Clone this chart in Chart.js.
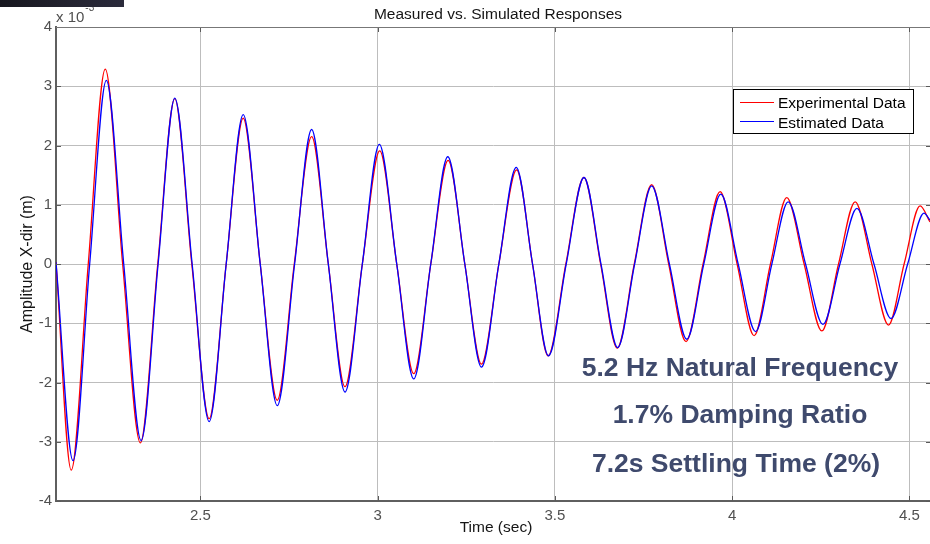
<!DOCTYPE html>
<html><head><meta charset="utf-8">
<script src="https://cdn.jsdelivr.net/npm/chart.js@4"></script>
<style>
html,body{margin:0;padding:0;background:#fff;overflow:hidden}
#wrap{position:relative;width:930px;height:544px}
#bar{position:absolute;left:0;top:0;width:124px;height:7px;background:linear-gradient(90deg,#17171f,#2b2b3c)}
</style></head>
<body><div id="wrap"><canvas id="c" width="930" height="544"></canvas><div id="bar"></div></div>
<script>
const chartTitle = 'Measured vs. Simulated Responses';
const xTitle = 'Time (sec)';
const yTitle = 'Amplitude X-dir (m)';
const yExponent = ['x 10', '-3'];
const seriesNames = ['Experimental Data', 'Estimated Data'];
const xTicks = [2.5, 3, 3.5, 4, 4.5];
const yTicks = [-4, -3, -2, -1, 0, 1, 2, 3, 4];
const notes = ['5.2 Hz Natural Frequency', '1.7% Damping Ratio', '7.2s Settling Time (2%)'];

// Experimental data (red): time (s) and amplitude (x 1e-3 m)
const tExp = [2.093, 2.136, 2.184, 2.232, 2.281, 2.331, 2.380, 2.428, 2.476, 2.525, 2.573, 2.621, 2.669, 2.717, 2.765, 2.814, 2.861, 2.908, 2.957, 3.006, 3.054, 3.102, 3.150, 3.199, 3.246, 3.293, 3.342, 3.392, 3.437, 3.481, 3.531, 3.582, 3.629, 3.676, 3.724, 3.773, 3.821, 3.870, 3.918, 3.966, 4.014, 4.062, 4.108, 4.154, 4.203, 4.253, 4.300, 4.347, 4.394, 4.441, 4.485, 4.530, 4.558];
const vExp = [0.03, -3.48, 0, 3.29, 0, -3.02, 0, 2.79, 0, -2.61, 0, 2.46, 0, -2.30, 0, 2.15, 0, -2.07, 0, 1.91, 0, -1.85, 0, 1.75, 0, -1.69, 0, 1.59, 0, -1.55, 0, 1.46, 0, -1.42, 0, 1.34, 0, -1.31, 0, 1.22, 0, -1.21, 0, 1.12, 0, -1.13, 0, 1.05, 0, -1.03, 0, 0.98, 0.71];

// Estimated data (blue)
const tEst = [2.093, 2.141, 2.188, 2.235, 2.284, 2.333, 2.381, 2.428, 2.477, 2.525, 2.573, 2.621, 2.669, 2.717, 2.766, 2.814, 2.861, 2.908, 2.957, 3.005, 3.054, 3.102, 3.150, 3.198, 3.246, 3.293, 3.342, 3.391, 3.437, 3.482, 3.532, 3.582, 3.630, 3.677, 3.725, 3.773, 3.823, 3.872, 3.920, 3.968, 4.017, 4.066, 4.112, 4.158, 4.207, 4.256, 4.304, 4.352, 4.400, 4.448, 4.495, 4.541, 4.558];
const vEst = [0.03, -3.32, 0, 3.10, 0, -2.98, 0, 2.80, 0, -2.66, 0, 2.52, 0, -2.39, 0, 2.27, 0, -2.16, 0, 2.02, 0, -1.94, 0, 1.81, 0, -1.74, 0, 1.63, 0, -1.55, 0, 1.46, 0, -1.41, 0, 1.32, 0, -1.27, 0, 1.18, 0, -1.14, 0, 1.05, 0, -1.02, 0, 0.94, 0, -0.92, 0, 0.86, 0.74];

const FONT = "'Liberation Sans', Arial, Helvetica, sans-serif";
const tickColor = '#505050';

const deco = {
  id: 'deco',
  afterDraw(chart) {
    const ctx = chart.ctx, a = chart.chartArea;
    const xs = chart.scales.x, ys = chart.scales.y;
    ctx.save();
    // inward tick marks
    ctx.strokeStyle = '#5a5a5a'; ctx.lineWidth = 1;
    ctx.beginPath();
    xTicks.forEach(v => {
      const px = Math.round(xs.getPixelForValue(v)) + 0.5;
      ctx.moveTo(px, a.bottom); ctx.lineTo(px, a.bottom - 5);
      ctx.moveTo(px, a.top); ctx.lineTo(px, a.top + 5);
    });
    yTicks.forEach(v => {
      const py = Math.round(ys.getPixelForValue(v)) + 0.5;
      ctx.moveTo(a.left, py); ctx.lineTo(a.left + 5, py);
      ctx.moveTo(a.right, py); ctx.lineTo(a.right - 4, py);
    });
    ctx.stroke();
    // top border
    ctx.strokeStyle = '#777'; ctx.beginPath();
    ctx.moveTo(a.left, a.top + 0.5); ctx.lineTo(a.right, a.top + 0.5); ctx.stroke();

    // title
    ctx.fillStyle = '#151515';
    ctx.font = '15.5px ' + FONT; ctx.textAlign = 'center'; ctx.textBaseline = 'alphabetic';
    ctx.fillText(chartTitle, 498, 19);
    // x title
    ctx.fillText(xTitle, 496, 532);
    // y title
    ctx.save(); ctx.font = '16px ' + FONT;
    ctx.translate(31.5, 264); ctx.rotate(-Math.PI / 2);
    ctx.fillText(yTitle, 0, 0); ctx.restore();
    // exponent
    ctx.fillStyle = tickColor; ctx.textAlign = 'left';
    ctx.font = '15px ' + FONT; ctx.fillText(yExponent[0], 56, 21.5);
    const w = ctx.measureText(yExponent[0]).width;
    ctx.font = '10px ' + FONT; ctx.fillText(yExponent[1], 56 + w + 1, 11);

    // legend
    ctx.fillStyle = '#fff'; ctx.fillRect(733, 89, 180, 45);
    ctx.strokeStyle = '#000'; ctx.lineWidth = 1; ctx.strokeRect(733.5, 89.5, 180, 44);
    chart.data.datasets.forEach((ds, i) => {
      const y = 102.5 + i * 19;
      ctx.strokeStyle = ds.borderColor; ctx.lineWidth = 1.2;
      ctx.beginPath(); ctx.moveTo(740, y); ctx.lineTo(774, y); ctx.stroke();
      ctx.fillStyle = '#000'; ctx.font = '15.5px ' + FONT; ctx.textAlign = 'left';
      ctx.fillText(ds.label, 778, 108.3 + i * 20);
    });

    // annotation notes
    ctx.fillStyle = '#3f4a6d'; ctx.textAlign = 'center';
    ctx.font = 'bold 26.5px ' + FONT;
    const nb = [376, 423.3, 471.7], nx = [740, 740, 736];
    notes.forEach((s, i) => ctx.fillText(s, nx[i], nb[i]));
    ctx.restore();
  }
};

const gridCfg = { color: '#bdbdbd', lineWidth: 1, drawTicks: false };
const tickFont = { family: FONT, size: 15 };

new Chart(document.getElementById('c'), {
  type: 'line',
  data: {
    datasets: [
      { label: seriesNames[0], data: tExp.map((t, i) => ({ x: t, y: vExp[i] })),
        borderColor: '#ff0000', borderWidth: 1.3, pointRadius: 0, cubicInterpolationMode: 'monotone', order: 2, fill: false },
      { label: seriesNames[1], data: tEst.map((t, i) => ({ x: t, y: vEst[i] })),
        borderColor: '#0000ff', borderWidth: 1.3, pointRadius: 0, cubicInterpolationMode: 'monotone', order: 1, fill: false }
    ]
  },
  options: {
    responsive: false, animation: false, devicePixelRatio: 1,
    layout: { padding: { top: 27, left: 0, right: 0, bottom: 0 } },
    plugins: { legend: { display: false }, tooltip: { enabled: false }, title: { display: false } },
    scales: {
      x: {
        type: 'linear', min: 2.093, max: 4.558,
        afterBuildTicks: s => { s.ticks = xTicks.map(v => ({ value: v })); },
        afterFit: s => { s.height = 43; },
        ticks: { padding: 6, font: tickFont, color: tickColor, maxRotation: 0, callback: v => String(v) },
        grid: gridCfg, border: { color: '#5f5f5f', width: 2 }
      },
      y: {
        type: 'linear', min: -4, max: 4,
        afterBuildTicks: s => { s.ticks = yTicks.map(v => ({ value: v })); },
        afterFit: s => { s.width = 56; },
        ticks: { padding: 4, font: tickFont, color: tickColor, callback: v => String(v) },
        grid: gridCfg, border: { color: '#5f5f5f', width: 2 }
      }
    }
  },
  plugins: [deco]
});
</script>
</body></html>
